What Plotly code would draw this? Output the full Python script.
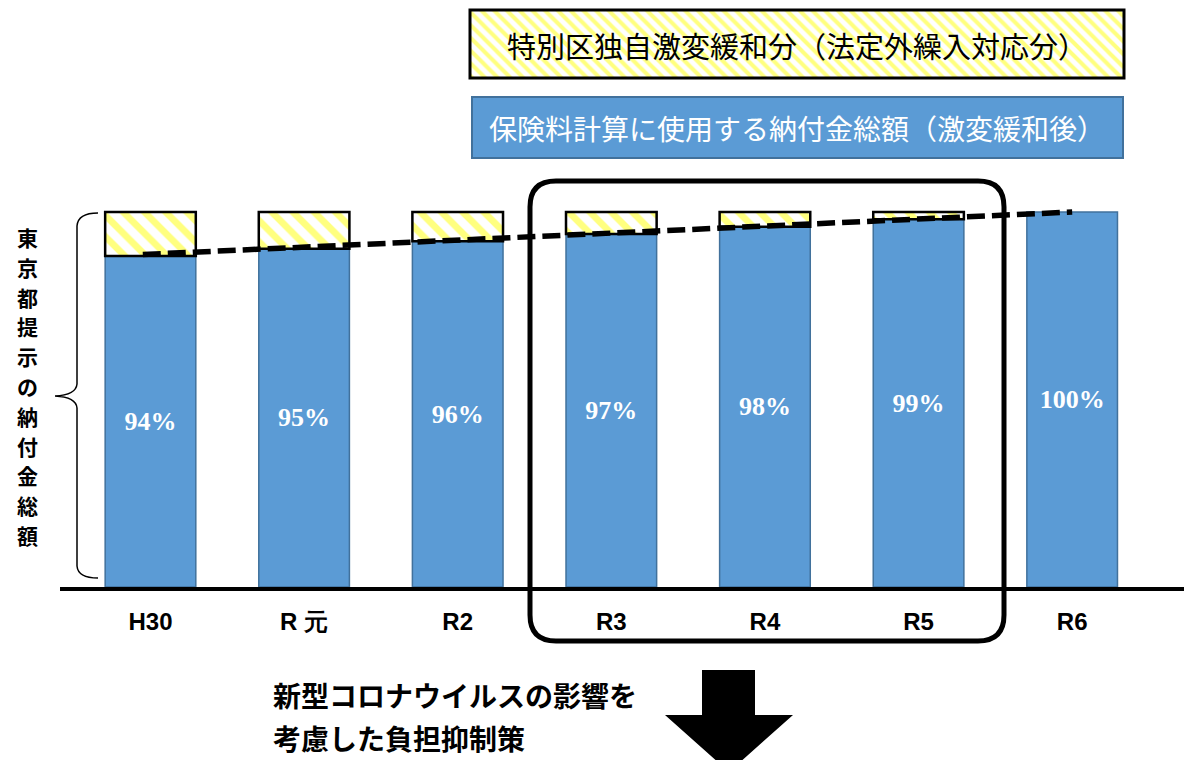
import plotly.graph_objects as go

# ---- data ----
years = ["H30", "R 元", "R2", "R3", "R4", "R5", "R6"]
paid_pct = [94, 95, 96, 97, 98, 99, 100]          # 保険料計算に使用する納付金総額（激変緩和後）
total_pct = [100, 100, 100, 100, 100, 100, 100]    # 東京都提示の納付金総額
legend_yellow = "特別区独自激変緩和分（法定外繰入対応分）"
legend_blue = "保険料計算に使用する納付金総額（激変緩和後）"
side_label = "東京都提示の納付金総額"
note_lines = ["新型コロナウイルスの影響を", "考慮した負担抑制策"]

W, H = 1184, 760
BLUE = "#5B9BD5"
BLUE_EDGE = "#41719C"
YELLOW = "#FFFF00"

# value axis scale (illustrative, not zero-based)
Y0, Y1 = 48.84, 105.73
idx = list(range(len(years)))
relief = [t - p if t - p > 0 else None for t, p in zip(total_pct, paid_pct)]

fig = go.Figure()

# blue part
fig.add_trace(go.Bar(
    x=idx, y=[p - Y0 for p in paid_pct], base=Y0, width=0.59,
    marker=dict(color=BLUE, line=dict(color=BLUE_EDGE, width=1.5)),
    text=[f"{p}%" for p in paid_pct], textposition="inside",
    insidetextanchor="middle", textangle=0, constraintext="none",
    textfont=dict(family="Liberation Serif, DejaVu Serif", size=26, color="white", weight="bold"),
    hoverinfo="skip",
))
# yellow hatched part
fig.add_trace(go.Bar(
    x=idx, y=relief, base=paid_pct, width=0.59,
    marker=dict(color="white", line=dict(color="black", width=2.5),
                pattern=dict(shape="\\", fgcolor=YELLOW, bgcolor="white", size=15, solidity=0.45)),
    hoverinfo="skip",
))
# dashed trend line
fig.add_trace(go.Scatter(
    x=[idx[0] - 0.05, idx[-1]], y=[paid_pct[0] + 0.2, paid_pct[-1]],
    mode="lines", line=dict(color="black", width=5.5, dash="18px,7px"),
    hoverinfo="skip",
))

# legend boxes (overlay pixel axes)
fig.add_trace(go.Bar(
    xaxis="x2", yaxis="y2", orientation="h", y=[44], x=[654], base=[470], width=[68],
    marker=dict(color="white", line=dict(color="black", width=3),
                pattern=dict(shape="\\", fgcolor=YELLOW, bgcolor="white", size=9, solidity=0.45)),
    hoverinfo="skip",
))
fig.add_trace(go.Bar(
    xaxis="x2", yaxis="y2", orientation="h", y=[127.5], x=[651], base=[472], width=[61],
    marker=dict(color=BLUE, line=dict(color=BLUE_EDGE, width=2)),
    hoverinfo="skip",
))

shapes = []
# rounded rectangle around R3-R5
x0, x1, y0, y1, r = 530, 1004, 181, 641, 26
rr = (f"M {x0+r},{y0} L {x1-r},{y0} Q {x1},{y0} {x1},{y0+r} L {x1},{y1-r} "
      f"Q {x1},{y1} {x1-r},{y1} L {x0+r},{y1} Q {x0},{y1} {x0},{y1-r} "
      f"L {x0},{y0+r} Q {x0},{y0} {x0+r},{y0} Z")
shapes.append(dict(type="path", xref="x2", yref="y2", path=rr,
                   line=dict(color="black", width=5), fillcolor="rgba(0,0,0,0)"))
# brace
br = ("M 98,213 Q 78,213 77,226 L 77,384 Q 76,395 55,396 Q 76,397 77,408 "
      "L 77,566 Q 78,578 98,578")
shapes.append(dict(type="path", xref="x2", yref="y2", path=br,
                   line=dict(color="black", width=1.5)))
# down arrow
ar = "M 702,670 L 755,670 L 755,715 L 793,715 L 729,772 L 665,715 L 702,715 Z"
shapes.append(dict(type="path", xref="x2", yref="y2", path=ar,
                   line=dict(color="black", width=0), fillcolor="black"))

ann = []
ann.append(dict(xref="x2", yref="y2", x=797, y=45, text=legend_yellow, showarrow=False,
                font=dict(family="Noto Sans CJK JP", size=29, color="black")))
ann.append(dict(xref="x2", yref="y2", x=797, y=128, text=legend_blue, showarrow=False,
                font=dict(family="Noto Sans CJK JP", size=28, color="white")))
# vertical side label, one character per line
for i, ch in enumerate(side_label):
    ann.append(dict(xref="x2", yref="y2", x=27, y=237 + i * 29.8, text=ch, showarrow=False,
                    font=dict(family="Noto Sans CJK JP", size=21, color="black", weight="bold")))
ann.append(dict(xref="x2", yref="y2", x=271, y=695, text=note_lines[0], showarrow=False,
                xanchor="left", font=dict(family="Noto Sans CJK JP", size=28, color="black", weight="bold")))
ann.append(dict(xref="x2", yref="y2", x=271, y=738, text=note_lines[1], showarrow=False,
                xanchor="left", font=dict(family="Noto Sans CJK JP", size=28, color="black", weight="bold")))

fig.update_layout(
    width=W, height=H, margin=dict(l=0, r=0, t=0, b=0),
    paper_bgcolor="white", plot_bgcolor="rgba(0,0,0,0)",
    showlegend=False, barmode="overlay",
    xaxis=dict(domain=[60 / W, 1], range=[-0.589, 6.728], tickvals=idx, ticktext=years,
               showline=True, linewidth=4, linecolor="black", ticks="", showgrid=False,
               zeroline=False, ticklabelstandoff=10,
               tickfont=dict(family="Liberation Sans Narrow, Liberation Sans", size=24,
                             color="black", weight="bold")),
    yaxis=dict(domain=[1 - 587 / H, 1 - 170 / H], range=[Y0, Y1], visible=False),
    xaxis2=dict(domain=[0, 1], range=[0, W], visible=False, anchor="y2"),
    yaxis2=dict(domain=[0, 1], range=[H, 0], visible=False, anchor="x2"),
    shapes=shapes, annotations=ann,
)

fig.write_html("out.html")
